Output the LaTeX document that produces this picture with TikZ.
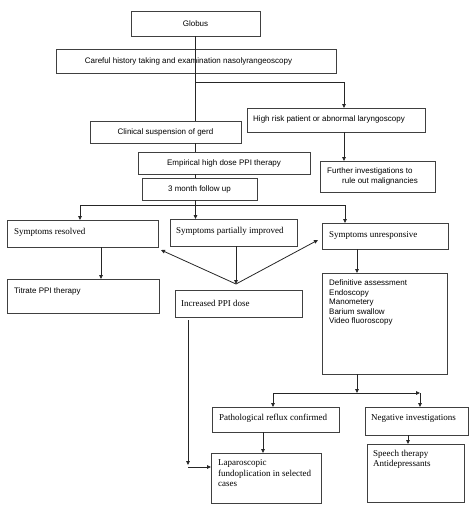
\documentclass[tikz,border=0pt]{standalone}
\usepackage{fontspec}
\setmainfont{Liberation Serif}
\newfontfamily\arialf{Liberation Sans}
\usetikzlibrary{arrows.meta,calc}
\tikzset{
  bx/.style={draw=black!75, line width=0.8pt, anchor=north west, inner sep=0pt, outer sep=0pt},
  st/.style={font=\arialf\fontsize{8}{9.5}\selectfont, inner sep=0pt, align=left},
  rt/.style={font=\fontsize{9}{10.6}\selectfont, inner sep=0pt, align=left},
  ln/.style={draw=black!85, line width=0.8pt},
  arr/.style={ln, -{Triangle[length=4pt,width=3.6pt]}}
}
\newcommand\mybox[5]{\node[bx, minimum width={#4-#2}, minimum height={#5-#3}] (#1) at (#2,#3) {};}
\begin{document}
\begin{tikzpicture}[x=1pt,y=-1pt]
\useasboundingbox (0,0) rectangle (474,509);
% boxes
\mybox{glo}{131}{11}{260}{36}
\mybox{car}{56}{49}{336}{73}
\mybox{cli}{90}{121}{241}{143}
\mybox{hig}{247}{108}{425}{132}
\mybox{fur}{320}{161}{435}{192}
\mybox{emp}{138}{152}{310}{174}
\mybox{tmo}{142}{178}{257}{200}
\mybox{res}{7}{220}{158}{247}
\mybox{par}{170}{219}{297}{246}
\mybox{unr}{322}{223}{448}{249}
\mybox{tit}{7}{279}{159}{313}
\mybox{inc}{175}{290}{302}{317}
\mybox{def}{322}{273}{447}{374}
\mybox{pat}{212}{407}{339}{432}
\mybox{neg}{365}{407}{468}{435}
\mybox{lap}{211}{453}{321}{503}
\mybox{spe}{367}{444}{464}{502}
% texts
\node[st] (glo-t) at (glo.center) {Globus};
\node[st] (car-t) at (188.5,61) {Careful history taking and examination nasolyrangeoscopy};
\node[st] (cli-t) at (cli.center) {Clinical suspension of gerd};
\node[st, anchor=west] (hig-t) at (253,119.5) {High risk patient or abnormal laryngoscopy};
\node[st, anchor=north west] (fur-t) at (327,167.5) {Further investigations to\\\hspace*{15pt}rule out malignancies};
\node[st] (emp-t) at (emp.center) {Empirical high dose PPI therapy};
\node[st] (tmo-t) at (tmo.center) {3 month follow up};
\node[rt, anchor=west] (res-t) at (14,232) {Symptoms resolved};
\node[rt, anchor=west] (par-t) at (176,231) {Symptoms partially improved};
\node[rt, anchor=west] (unr-t) at (329,235) {Symptoms unresponsive};
\node[st, anchor=west] (tit-t) at (14,291) {Titrate PPI therapy};
\node[rt, anchor=west] (inc-t) at (181,303) {Increased PPI dose};
\node[st, anchor=north west] (def-t) at (329,279.5) {Definitive assessment\\Endoscopy\\Manometery\\Barium swallow\\Video fluoroscopy};
\node[rt, anchor=west] (pat-t) at (219,418) {Pathological reflux confirmed};
\node[rt, anchor=west] (neg-t) at (371,418) {Negative investigations};
\node[rt, anchor=north west] (lap-t) at (218,459.5) {Laparoscopic\\fundoplication in selected\\cases};
\node[rt, anchor=north west, font=\fontsize{9}{10}\selectfont] (spe-t) at (373,450.5) {Speech therapy\\Antidepressants};
% connectors
\draw[ln] (glo.south) -- (glo.south |- cli.north);
\coordinate (b1) at (195.5,82);
\draw[arr] (b1) -| ($(hig.north west)+(97,0)$);
\draw[arr] ($(hig.south west)+(97,0)$) -- ($(fur.north west)+(24,0)$);
\draw[ln] (cli.south -| glo.south) -- (emp.north -| glo.south);
\draw[ln] (emp.south -| glo.south) -- (tmo.north -| glo.south);
\coordinate (sp1) at (195.5,205);
\draw[ln] (tmo.south -| sp1) -- (sp1);
\draw[arr] (sp1) -| ($(res.north west)+(73,0)$);
\draw[arr] (sp1) -- (sp1 |- par.north);
\draw[arr] (sp1) -| ($(unr.north west)+(23,0)$);
\draw[arr] ($(res.south west)+(94,0)$) -- ($(tit.north west)+(94,0)$);
\coordinate (meet) at ($(inc.north west)+(61,-6)$);
\draw[arr] ($(par.south west)+(66,0)$) -- (meet);
\draw[arr] (meet) -- ($(res.south east)+(3,3)$);
\draw[arr] (meet) -- ($(unr.west)+(-4,4)$);
\draw[arr] ($(unr.south west)+(35,0)$) -- ($(def.north west)+(35,0)$);
\coordinate (lc) at ($(lap.north west)+(-23,14)$);
\draw[arr] ($(inc.south west)+(13,3)$) -- ($(lc)+(0,-2)$);
\draw[arr] (lc) -- (lc -| lap.west);
\coordinate (sp2) at (357,393);
\coordinate (sp3) at (420,393);
\draw[arr] ($(def.south west)+(35,0)$) -- (sp2);
\draw[arr] (sp2) -| ($(pat.north west)+(61,0)$);
\draw[arr] (sp2) -- (sp3);
\draw[arr] (sp3) -- ($(neg.north west)+(55,0)$);
\draw[arr] ($(pat.south west)+(51,0)$) -- ($(lap.north west)+(52,0)$);
\draw[arr] ($(neg.south west)+(43,0)$) -- ($(spe.north west)+(41,0)$);
\end{tikzpicture}
\end{document}
